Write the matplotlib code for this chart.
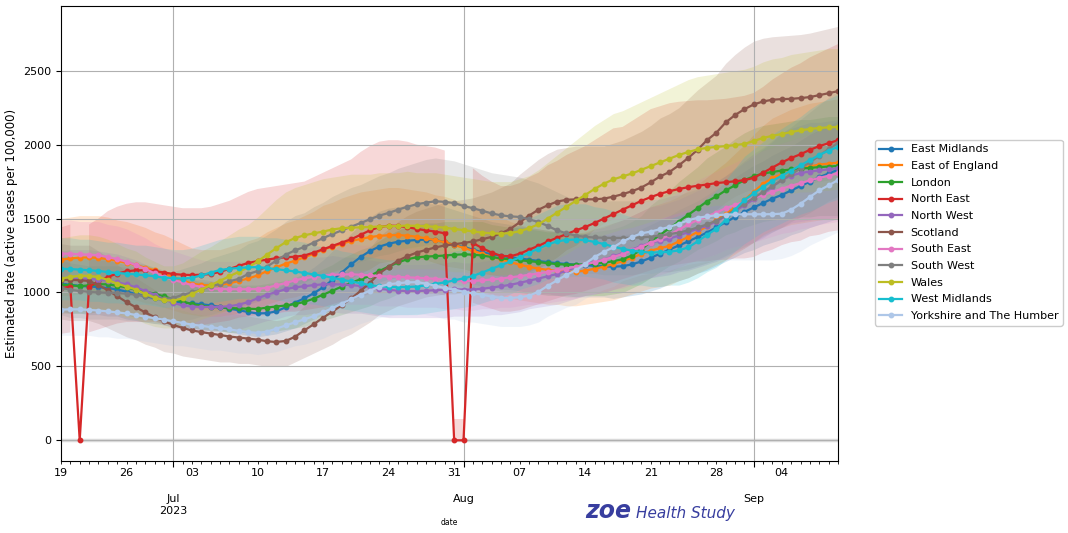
import matplotlib
matplotlib.use("Agg")
import matplotlib.pyplot as plt
import matplotlib.dates as mdates
from matplotlib.ticker import FuncFormatter
import numpy as np
import pandas as pd

# daily estimates, 19 Jun - 10 Sep 2023
dates = pd.date_range("2023-06-19", "2023-09-10", freq="D")

regions = ["East Midlands", "East of England", "London", "North East", "North West",
           "Scotland", "South East", "South West", "Wales", "West Midlands",
           "Yorkshire and The Humber"]
colors = ["#1f77b4", "#ff7f0e", "#2ca02c", "#d62728", "#9467bd", "#8c564b",
          "#e377c2", "#7f7f7f", "#bcbd22", "#17becf", "#aec7e8"]

east_midlands = [1060, 1052, 1045, 1040, 1037, 1030, 1020, 1005, 990, 975, 962, 950, 938, 932,
                 926, 920, 913, 902, 890, 880, 868, 858, 860, 872, 900, 932, 960, 995,
                 1035, 1085, 1135, 1190, 1240, 1280, 1310, 1330, 1343, 1350, 1355, 1358, 1355, 1340,
                 1322, 1308, 1290, 1272, 1258, 1248, 1238, 1230, 1222, 1213, 1205, 1198, 1193, 1188,
                 1185, 1180, 1177, 1174, 1178, 1190, 1210, 1235, 1262, 1290, 1318, 1345, 1375, 1405,
                 1440, 1475, 1510, 1545, 1575, 1605, 1635, 1660, 1690, 1720, 1750, 1780, 1805, 1830]
east_midlands_lo = [870, 860, 860, 850, 850, 840, 840, 820, 810, 800, 790, 780, 770, 760,
                    760, 750, 750, 740, 730, 720, 710, 700, 710, 720, 740, 760, 790, 820,
                    850, 890, 930, 980, 1020, 1050, 1070, 1090, 1100, 1110, 1110, 1110, 1110, 1100,
                    1080, 1070, 1060, 1040, 1030, 1020, 1020, 1010, 1000, 990, 990, 980, 980, 970,
                    970, 970, 970, 960, 970, 980, 990, 1010, 1030, 1060, 1080, 1100, 1130, 1150,
                    1180, 1210, 1240, 1270, 1290, 1320, 1340, 1360, 1390, 1410, 1440, 1460, 1480, 1500]
east_midlands_hi = [1250, 1240, 1230, 1230, 1220, 1220, 1200, 1190, 1170, 1150, 1140, 1120, 1110, 1100,
                    1090, 1090, 1080, 1060, 1050, 1040, 1020, 1010, 1010, 1030, 1060, 1100, 1130, 1170,
                    1220, 1280, 1340, 1400, 1460, 1510, 1550, 1570, 1580, 1590, 1600, 1600, 1600, 1580,
                    1560, 1540, 1520, 1500, 1480, 1470, 1460, 1450, 1440, 1430, 1420, 1410, 1410, 1400,
                    1400, 1390, 1390, 1390, 1390, 1400, 1430, 1460, 1490, 1520, 1560, 1590, 1620, 1660,
                    1700, 1740, 1780, 1820, 1860, 1890, 1930, 1960, 1990, 2030, 2070, 2100, 2130, 2160]

east_of_england = [1222, 1230, 1236, 1237, 1234, 1226, 1214, 1200, 1185, 1168, 1150, 1128, 1105, 1080,
                   1060, 1050, 1048, 1052, 1062, 1078, 1095, 1115, 1145, 1170, 1195, 1215, 1238, 1262,
                   1290, 1310, 1330, 1348, 1362, 1375, 1383, 1387, 1388, 1385, 1377, 1366, 1353, 1340,
                   1322, 1302, 1282, 1262, 1242, 1225, 1205, 1188, 1173, 1162, 1153, 1146, 1140, 1140,
                   1148, 1160, 1175, 1192, 1212, 1235, 1260, 1283, 1300, 1315, 1345, 1375, 1410, 1448,
                   1490, 1530, 1575, 1625, 1680, 1735, 1775, 1800, 1820, 1840, 1853, 1865, 1872, 1878]
east_of_england_lo = [980, 980, 990, 990, 990, 980, 970, 960, 950, 930, 920, 900, 880, 860,
                      850, 840, 840, 840, 850, 860, 880, 890, 920, 940, 960, 970, 990, 1010,
                      1030, 1050, 1060, 1080, 1090, 1100, 1110, 1110, 1110, 1110, 1100, 1090, 1080, 1070,
                      1060, 1040, 1030, 1010, 990, 980, 960, 950, 940, 930, 920, 920, 910, 910,
                      920, 930, 940, 950, 970, 990, 1010, 1030, 1040, 1050, 1080, 1100, 1130, 1160,
                      1190, 1220, 1260, 1300, 1340, 1390, 1420, 1440, 1460, 1470, 1480, 1490, 1500, 1500]
east_of_england_hi = [1500, 1510, 1520, 1520, 1520, 1510, 1490, 1480, 1460, 1440, 1410, 1390, 1360, 1330,
                      1300, 1290, 1290, 1290, 1310, 1330, 1350, 1370, 1410, 1440, 1470, 1490, 1520, 1550,
                      1590, 1610, 1640, 1660, 1680, 1690, 1700, 1710, 1710, 1700, 1690, 1680, 1660, 1650,
                      1630, 1600, 1580, 1550, 1530, 1510, 1480, 1460, 1440, 1430, 1420, 1410, 1400, 1400,
                      1410, 1430, 1450, 1470, 1490, 1520, 1550, 1580, 1600, 1620, 1650, 1690, 1730, 1780,
                      1830, 1880, 1940, 2000, 2070, 2130, 2180, 2210, 2240, 2260, 2280, 2290, 2300, 2310]

london = [1053, 1048, 1043, 1048, 1056, 1055, 1045, 1035, 1018, 1005, 992, 973, 955, 938,
          922, 910, 903, 899, 895, 892, 890, 888, 898, 905, 912, 922, 936, 958,
          985, 1012, 1040, 1065, 1090, 1112, 1145, 1175, 1203, 1225, 1238, 1243, 1246, 1250,
          1255, 1258, 1256, 1250, 1240, 1230, 1224, 1218, 1212, 1206, 1198, 1192, 1188, 1188,
          1190, 1195, 1200, 1212, 1225, 1250, 1290, 1345, 1390, 1435, 1480, 1525, 1570, 1615,
          1650, 1690, 1725, 1760, 1785, 1805, 1815, 1825, 1832, 1838, 1843, 1848, 1852, 1856]
london_lo = [860, 860, 860, 860, 870, 870, 860, 850, 830, 820, 810, 800, 780, 770,
             760, 750, 740, 740, 730, 730, 730, 730, 740, 740, 750, 760, 770, 790,
             810, 830, 850, 870, 890, 910, 940, 960, 990, 1000, 1020, 1020, 1020, 1030,
             1030, 1030, 1030, 1030, 1020, 1010, 1000, 1000, 990, 990, 980, 980, 970, 970,
             980, 980, 980, 990, 1000, 1030, 1060, 1100, 1140, 1180, 1210, 1250, 1290, 1320,
             1350, 1390, 1410, 1440, 1460, 1480, 1490, 1500, 1500, 1510, 1510, 1520, 1520, 1520]
london_hi = [1240, 1240, 1230, 1240, 1250, 1240, 1230, 1220, 1200, 1190, 1170, 1150, 1130, 1110,
             1090, 1070, 1070, 1060, 1060, 1050, 1050, 1050, 1060, 1070, 1080, 1090, 1100, 1130,
             1160, 1190, 1230, 1260, 1290, 1310, 1350, 1390, 1420, 1450, 1460, 1470, 1470, 1480,
             1480, 1480, 1480, 1480, 1460, 1450, 1440, 1440, 1430, 1420, 1410, 1410, 1400, 1400,
             1400, 1410, 1420, 1430, 1450, 1480, 1520, 1590, 1640, 1690, 1750, 1800, 1850, 1910,
             1950, 1990, 2040, 2080, 2110, 2130, 2140, 2150, 2160, 2170, 2170, 2180, 2190, 2190]

north_east = [1030, 1040, 0, 1040, 1075, 1105, 1128, 1143, 1150, 1150, 1145, 1135, 1125, 1120,
              1118, 1120, 1125, 1140, 1160, 1180, 1200, 1212, 1222, 1232, 1238, 1242, 1250, 1270,
              1292, 1315, 1338, 1360, 1390, 1420, 1442, 1452, 1450, 1442, 1430, 1420, 1412, 1400,
              0, 0, 1335, 1300, 1270, 1248, 1245, 1262, 1290, 1315, 1345, 1370, 1395, 1420,
              1443, 1470, 1500, 1530, 1560, 1590, 1620, 1645, 1668, 1685, 1700, 1712, 1722, 1730,
              1740, 1746, 1752, 1760, 1775, 1810, 1845, 1880, 1910, 1935, 1965, 1990, 2010, 2030]
north_east_lo = [720, 730, 0, 730, 750, 770, 790, 800, 800, 800, 800, 790, 790, 780,
                 780, 780, 790, 800, 810, 830, 840, 850, 860, 860, 870, 870, 880, 890,
                 900, 920, 940, 950, 970, 990, 1010, 1020, 1020, 1010, 1000, 990, 990, 980,
                 0, 0, 930, 910, 890, 870, 870, 880, 900, 920, 940, 960, 980, 990,
                 1010, 1030, 1050, 1070, 1090, 1110, 1130, 1150, 1170, 1180, 1190, 1200, 1210, 1210,
                 1220, 1220, 1230, 1230, 1240, 1270, 1290, 1320, 1340, 1350, 1380, 1390, 1410, 1420]
north_east_hi = [1440, 1460, 140, 1460, 1500, 1550, 1580, 1600, 1610, 1610, 1600, 1590, 1580, 1570,
                 1570, 1570, 1580, 1600, 1620, 1650, 1680, 1700, 1710, 1720, 1730, 1740, 1750, 1780,
                 1810, 1840, 1870, 1900, 1950, 1990, 2020, 2030, 2030, 2020, 2000, 1990, 1980, 1960,
                 145, 145, 1840, 1790, 1750, 1720, 1720, 1740, 1780, 1810, 1860, 1890, 1930, 1960,
                 1990, 2030, 2070, 2110, 2120, 2160, 2200, 2240, 2260, 2280, 2290, 2295, 2300, 2300,
                 2305, 2310, 2320, 2330, 2350, 2390, 2440, 2480, 2520, 2550, 2590, 2620, 2650, 2680]

north_west = [1087, 1090, 1094, 1092, 1087, 1080, 1068, 1055, 1035, 1010, 985, 955, 930, 912,
              905, 902, 902, 903, 907, 918, 935, 960, 985, 1003, 1022, 1035, 1042, 1050,
              1055, 1056, 1054, 1050, 1044, 1037, 1025, 1018, 1012, 1010, 1010, 1012, 1015, 1018,
              1022, 1020, 1020, 1025, 1033, 1042, 1052, 1065, 1080, 1094, 1110, 1125, 1148, 1170,
              1190, 1208, 1222, 1245, 1265, 1290, 1315, 1338, 1350, 1364, 1385, 1408, 1430, 1452,
              1480, 1515, 1550, 1590, 1630, 1670, 1715, 1760, 1790, 1808, 1818, 1826, 1833, 1840]
north_west_lo = [890, 890, 900, 900, 890, 890, 880, 870, 850, 830, 810, 780, 760, 750,
                 740, 740, 740, 740, 740, 750, 770, 790, 810, 820, 840, 850, 850, 860,
                 870, 870, 860, 860, 860, 850, 840, 830, 830, 830, 830, 830, 830, 830,
                 840, 840, 840, 840, 850, 850, 860, 870, 890, 900, 910, 920, 940, 960,
                 980, 990, 1000, 1020, 1040, 1060, 1080, 1100, 1110, 1120, 1140, 1150, 1170, 1190,
                 1210, 1240, 1270, 1300, 1340, 1370, 1410, 1440, 1470, 1480, 1490, 1500, 1500, 1510]
north_west_hi = [1280, 1290, 1290, 1290, 1280, 1270, 1260, 1240, 1220, 1190, 1160, 1130, 1100, 1080,
                 1070, 1060, 1060, 1070, 1070, 1080, 1100, 1130, 1160, 1180, 1210, 1220, 1230, 1240,
                 1240, 1250, 1240, 1240, 1230, 1220, 1210, 1200, 1190, 1190, 1190, 1190, 1200, 1200,
                 1210, 1200, 1200, 1210, 1220, 1230, 1240, 1260, 1270, 1290, 1310, 1330, 1350, 1380,
                 1400, 1430, 1440, 1470, 1490, 1520, 1550, 1580, 1590, 1610, 1630, 1660, 1690, 1710,
                 1750, 1790, 1830, 1880, 1920, 1970, 2020, 2080, 2110, 2130, 2150, 2150, 2160, 2170]

scotland = [1087, 1085, 1083, 1078, 1050, 1015, 975, 935, 900, 865, 834, 805, 780, 760,
            743, 732, 722, 712, 702, 695, 688, 681, 670, 665, 672, 700, 744, 785,
            830, 870, 915, 960, 1010, 1065, 1130, 1173, 1215, 1245, 1270, 1288, 1305, 1318,
            1326, 1335, 1345, 1360, 1376, 1400, 1430, 1475, 1520, 1560, 1590, 1615, 1627, 1630,
            1630, 1630, 1635, 1648, 1665, 1685, 1710, 1745, 1785, 1815, 1860, 1910, 1965, 2030,
            2080, 2150, 2200, 2240, 2272, 2292, 2304, 2308, 2310, 2315, 2322, 2335, 2348, 2362]
scotland_lo = [820, 810, 810, 810, 790, 760, 730, 700, 680, 650, 630, 600, 590, 570,
               560, 550, 540, 530, 530, 520, 520, 510, 500, 500, 500, 530, 560, 590,
               620, 650, 690, 720, 760, 800, 850, 880, 910, 930, 950, 970, 980, 990,
               990, 1000, 1010, 1020, 1030, 1050, 1070, 1110, 1140, 1170, 1190, 1210, 1220, 1220,
               1220, 1220, 1230, 1240, 1250, 1260, 1280, 1310, 1340, 1360, 1400, 1430, 1470, 1520,
               1560, 1610, 1650, 1680, 1700, 1720, 1730, 1730, 1730, 1740, 1740, 1750, 1760, 1770]
scotland_hi = [1330, 1320, 1320, 1320, 1280, 1240, 1190, 1140, 1100, 1060, 1020, 980, 950, 930,
               910, 890, 880, 870, 860, 850, 840, 830, 820, 810, 820, 850, 910, 960,
               1010, 1060, 1120, 1170, 1230, 1300, 1380, 1430, 1480, 1520, 1550, 1570, 1590, 1610,
               1620, 1630, 1640, 1660, 1680, 1710, 1740, 1800, 1850, 1900, 1940, 1970, 1980, 1990,
               1990, 1990, 1990, 2010, 2030, 2060, 2090, 2130, 2180, 2210, 2250, 2310, 2370, 2420,
               2470, 2550, 2610, 2660, 2700, 2720, 2730, 2735, 2740, 2745, 2755, 2770, 2785, 2800]

south_east = [1263, 1262, 1258, 1256, 1252, 1240, 1225, 1208, 1185, 1160, 1130, 1105, 1085, 1068,
              1050, 1038, 1028, 1024, 1022, 1022, 1022, 1024, 1032, 1048, 1064, 1082, 1096, 1106,
              1112, 1120, 1122, 1123, 1120, 1116, 1110, 1108, 1106, 1102, 1100, 1096, 1092, 1087,
              1082, 1078, 1078, 1082, 1088, 1094, 1102, 1110, 1120, 1128, 1140, 1150, 1162, 1175,
              1190, 1205, 1222, 1240, 1260, 1285, 1310, 1338, 1360, 1390, 1425, 1460, 1490, 1515,
              1540, 1570, 1592, 1615, 1638, 1660, 1680, 1702, 1722, 1740, 1758, 1775, 1790, 1806]
south_east_lo = [1040, 1030, 1030, 1030, 1030, 1020, 1000, 990, 970, 950, 930, 910, 890, 880,
                 860, 850, 840, 840, 840, 840, 840, 840, 850, 860, 870, 890, 900, 910,
                 910, 920, 920, 920, 920, 920, 910, 910, 910, 900, 900, 900, 900, 890,
                 890, 880, 880, 890, 890, 900, 900, 910, 920, 920, 930, 940, 950, 960,
                 980, 990, 1000, 1020, 1030, 1050, 1070, 1100, 1120, 1140, 1170, 1200, 1220, 1240,
                 1260, 1290, 1310, 1320, 1340, 1360, 1380, 1400, 1410, 1430, 1440, 1460, 1470, 1480]
south_east_hi = [1490, 1490, 1480, 1480, 1480, 1460, 1450, 1430, 1400, 1370, 1330, 1300, 1280, 1260,
                 1240, 1220, 1210, 1210, 1210, 1210, 1210, 1210, 1220, 1240, 1260, 1280, 1290, 1310,
                 1310, 1320, 1320, 1330, 1320, 1320, 1310, 1310, 1310, 1300, 1300, 1290, 1290, 1280,
                 1280, 1270, 1270, 1280, 1280, 1290, 1300, 1310, 1320, 1330, 1350, 1360, 1370, 1390,
                 1400, 1420, 1440, 1460, 1490, 1520, 1550, 1580, 1600, 1640, 1680, 1720, 1760, 1790,
                 1820, 1850, 1880, 1910, 1930, 1960, 1980, 2010, 2030, 2050, 2070, 2090, 2110, 2130]

south_west = [1033, 1018, 1010, 1004, 1000, 998, 997, 992, 985, 976, 968, 958, 962, 985,
              1000, 1020, 1042, 1058, 1076, 1092, 1125, 1145, 1175, 1215, 1255, 1285, 1308, 1338,
              1368, 1395, 1420, 1445, 1470, 1495, 1520, 1538, 1560, 1580, 1597, 1608, 1617, 1613,
              1605, 1585, 1570, 1553, 1535, 1522, 1515, 1511, 1495, 1477, 1450, 1420, 1400, 1385,
              1376, 1372, 1370, 1369, 1369, 1370, 1372, 1378, 1385, 1395, 1405, 1420, 1440, 1460,
              1485, 1520, 1560, 1600, 1640, 1680, 1720, 1760, 1800, 1840, 1880, 1925, 1970, 2010]
south_west_lo = [850, 830, 830, 820, 820, 820, 820, 810, 810, 800, 790, 790, 790, 810,
                 820, 840, 850, 870, 880, 900, 920, 940, 960, 1000, 1030, 1050, 1070, 1100,
                 1120, 1140, 1160, 1180, 1210, 1230, 1250, 1260, 1280, 1300, 1310, 1320, 1330, 1320,
                 1320, 1300, 1290, 1270, 1260, 1250, 1240, 1240, 1230, 1210, 1190, 1160, 1150, 1140,
                 1130, 1130, 1120, 1120, 1120, 1120, 1130, 1130, 1140, 1140, 1150, 1160, 1180, 1200,
                 1220, 1250, 1280, 1310, 1340, 1380, 1410, 1440, 1480, 1510, 1540, 1580, 1620, 1650]
south_west_hi = [1220, 1200, 1190, 1180, 1180, 1180, 1180, 1170, 1160, 1150, 1140, 1130, 1140, 1160,
                 1180, 1200, 1230, 1250, 1270, 1290, 1330, 1350, 1390, 1430, 1480, 1520, 1540, 1580,
                 1610, 1650, 1680, 1710, 1730, 1760, 1790, 1810, 1840, 1860, 1880, 1900, 1910, 1900,
                 1890, 1870, 1850, 1830, 1810, 1800, 1790, 1780, 1760, 1740, 1710, 1680, 1650, 1630,
                 1620, 1620, 1620, 1620, 1620, 1620, 1620, 1630, 1630, 1650, 1660, 1680, 1700, 1720,
                 1750, 1790, 1840, 1890, 1940, 1980, 2030, 2080, 2120, 2170, 2220, 2270, 2320, 2370]

wales = [1094, 1105, 1114, 1112, 1105, 1085, 1060, 1040, 1020, 990, 965, 947, 945, 960,
         990, 1020, 1050, 1080, 1110, 1140, 1170, 1210, 1255, 1300, 1340, 1368, 1387, 1400,
         1412, 1426, 1435, 1438, 1441, 1443, 1446, 1448, 1450, 1452, 1451, 1448, 1444, 1438,
         1430, 1422, 1413, 1405, 1400, 1398, 1402, 1414, 1435, 1461, 1500, 1540, 1580, 1620,
         1660, 1700, 1736, 1765, 1785, 1805, 1830, 1855, 1880, 1905, 1930, 1950, 1968, 1978,
         1985, 1990, 1997, 2005, 2025, 2045, 2060, 2072, 2085, 2097, 2106, 2113, 2117, 2120]
wales_lo = [880, 880, 890, 890, 880, 870, 850, 830, 820, 790, 770, 760, 760, 770,
            790, 820, 840, 860, 890, 910, 940, 970, 1000, 1040, 1070, 1090, 1110, 1120,
            1130, 1140, 1150, 1150, 1150, 1150, 1160, 1160, 1160, 1160, 1160, 1160, 1160, 1150,
            1140, 1140, 1130, 1120, 1120, 1120, 1120, 1130, 1150, 1170, 1200, 1230, 1260, 1300,
            1330, 1360, 1390, 1410, 1430, 1440, 1460, 1480, 1500, 1520, 1540, 1560, 1570, 1580,
            1590, 1590, 1600, 1600, 1620, 1640, 1650, 1660, 1670, 1680, 1680, 1690, 1690, 1700]
wales_hi = [1370, 1380, 1390, 1390, 1380, 1360, 1330, 1300, 1280, 1240, 1210, 1180, 1180, 1200,
            1240, 1280, 1310, 1350, 1390, 1430, 1460, 1510, 1570, 1630, 1680, 1710, 1730, 1750,
            1770, 1780, 1790, 1800, 1800, 1800, 1810, 1810, 1810, 1820, 1810, 1810, 1810, 1800,
            1790, 1780, 1770, 1760, 1750, 1750, 1750, 1770, 1790, 1830, 1880, 1930, 1980, 2030,
            2080, 2130, 2170, 2210, 2230, 2260, 2290, 2320, 2350, 2380, 2410, 2440, 2460, 2470,
            2480, 2490, 2500, 2510, 2530, 2560, 2580, 2590, 2610, 2620, 2630, 2640, 2650, 2650]

west_midlands = [1161, 1158, 1155, 1150, 1146, 1138, 1132, 1127, 1122, 1116, 1110, 1100, 1096, 1094,
                 1100, 1115, 1135, 1152, 1161, 1166, 1170, 1172, 1165, 1158, 1150, 1142, 1132, 1122,
                 1112, 1100, 1086, 1075, 1062, 1050, 1042, 1037, 1036, 1037, 1040, 1048, 1058, 1068,
                 1082, 1095, 1112, 1135, 1160, 1184, 1210, 1238, 1268, 1297, 1325, 1345, 1356, 1358,
                 1354, 1342, 1328, 1310, 1295, 1283, 1275, 1270, 1272, 1275, 1285, 1305, 1345, 1390,
                 1430, 1490, 1560, 1625, 1670, 1715, 1755, 1790, 1825, 1860, 1895, 1930, 1960, 1985]
west_midlands_lo = [950, 950, 950, 940, 940, 930, 930, 920, 920, 920, 910, 900, 900, 900,
                    900, 910, 930, 940, 950, 960, 960, 960, 960, 950, 940, 940, 930, 920,
                    910, 900, 890, 880, 870, 860, 850, 850, 850, 850, 850, 860, 870, 880,
                    890, 900, 910, 930, 950, 970, 990, 1020, 1040, 1060, 1090, 1100, 1110, 1110,
                    1110, 1100, 1090, 1070, 1060, 1050, 1050, 1040, 1040, 1050, 1050, 1070, 1100, 1140,
                    1170, 1220, 1280, 1330, 1370, 1410, 1440, 1470, 1500, 1530, 1550, 1580, 1610, 1630]
west_midlands_hi = [1370, 1370, 1360, 1360, 1350, 1340, 1340, 1330, 1320, 1320, 1310, 1300, 1290, 1290,
                    1300, 1320, 1340, 1360, 1370, 1380, 1380, 1380, 1370, 1370, 1360, 1350, 1340, 1320,
                    1310, 1300, 1280, 1270, 1250, 1240, 1230, 1220, 1220, 1220, 1230, 1240, 1250, 1260,
                    1280, 1290, 1310, 1340, 1370, 1400, 1430, 1460, 1500, 1530, 1560, 1590, 1600, 1600,
                    1600, 1580, 1570, 1550, 1530, 1510, 1500, 1500, 1500, 1500, 1520, 1540, 1590, 1640,
                    1690, 1760, 1840, 1920, 1970, 2020, 2070, 2110, 2150, 2190, 2240, 2280, 2310, 2340]

yorkshire = [884, 886, 886, 882, 878, 872, 865, 858, 848, 836, 826, 816, 805, 794,
             782, 775, 765, 757, 750, 740, 732, 727, 735, 755, 777, 798, 818, 840,
             865, 895, 925, 955, 985, 1012, 1040, 1055, 1063, 1068, 1070, 1060, 1045, 1030,
             1020, 1005, 995, 985, 972, 963, 962, 968, 978, 1005, 1045, 1082, 1120, 1150,
             1195, 1240, 1275, 1305, 1345, 1375, 1400, 1412, 1428, 1443, 1465, 1488, 1505, 1515,
             1522, 1527, 1528, 1529, 1529, 1529, 1530, 1533, 1560, 1600, 1646, 1690, 1725, 1760]
yorkshire_lo = [710, 710, 710, 710, 700, 700, 690, 690, 680, 670, 660, 650, 640, 640,
                630, 620, 610, 610, 600, 590, 590, 580, 590, 600, 620, 640, 650, 670,
                690, 720, 740, 760, 790, 810, 830, 840, 850, 850, 860, 850, 840, 820,
                820, 800, 800, 790, 780, 770, 770, 770, 780, 800, 840, 870, 900, 920,
                960, 990, 1020, 1040, 1080, 1100, 1120, 1130, 1140, 1150, 1170, 1190, 1200, 1210,
                1220, 1220, 1220, 1220, 1220, 1220, 1220, 1230, 1250, 1280, 1320, 1350, 1380, 1410]
yorkshire_hi = [1020, 1020, 1020, 1010, 1010, 1000, 990, 990, 980, 960, 950, 940, 930, 910,
                900, 890, 880, 870, 860, 850, 840, 840, 850, 870, 890, 920, 940, 970,
                990, 1030, 1060, 1100, 1130, 1160, 1200, 1210, 1220, 1230, 1230, 1220, 1200, 1180,
                1170, 1160, 1140, 1130, 1120, 1110, 1110, 1110, 1120, 1160, 1200, 1240, 1290, 1320,
                1370, 1430, 1470, 1500, 1550, 1580, 1610, 1620, 1640, 1660, 1680, 1710, 1730, 1740,
                1750, 1760, 1760, 1760, 1760, 1760, 1760, 1760, 1790, 1840, 1890, 1940, 1980, 2020]

series = {
    "East Midlands": (east_midlands, east_midlands_lo, east_midlands_hi),
    "East of England": (east_of_england, east_of_england_lo, east_of_england_hi),
    "London": (london, london_lo, london_hi),
    "North East": (north_east, north_east_lo, north_east_hi),
    "North West": (north_west, north_west_lo, north_west_hi),
    "Scotland": (scotland, scotland_lo, scotland_hi),
    "South East": (south_east, south_east_lo, south_east_hi),
    "South West": (south_west, south_west_lo, south_west_hi),
    "Wales": (wales, wales_lo, wales_hi),
    "West Midlands": (west_midlands, west_midlands_lo, west_midlands_hi),
    "Yorkshire and The Humber": (yorkshire, yorkshire_lo, yorkshire_hi),
}

plt.rcParams['font.family'] = ['DejaVu Sans']

fig = plt.figure(figsize=(10.68, 5.33), dpi=100)
ax = fig.add_axes([0.0571, 0.1351, 0.7275, 0.8542])

# uncertainty bands first; days with a zero estimate get their own (tiny) band
for name, color in zip(regions, colors):
    vals, lo, hi = series[name]
    ok = np.array(vals) > 0
    ax.fill_between(dates, lo, hi, where=ok, color=color, alpha=0.18, lw=0)
    ax.fill_between(dates, lo, hi, where=~ok, color=color, alpha=0.18, lw=0)

ax.axhline(0, color="#dcdcdc", lw=2.5, zorder=1.2)

for name, color in zip(regions, colors):
    vals = series[name][0]
    ax.plot(dates, vals, color=color, lw=1.6, marker="o", ms=3.2, label=name)

ax.set_xlim(dates[0], dates[-1])
ax.set_ylim(-140, 2940)
ax.set_yticks([0, 500, 1000, 1500, 2000, 2500])


def month_label(x, pos=None):
    d = mdates.num2date(x)
    return d.strftime("%b\n%Y") if d.month == 7 else d.strftime("%b")


def monday_label(x, pos=None):
    d = mdates.num2date(x)
    return d.strftime("%d") if d.weekday() == 0 else ""


ax.xaxis.set_major_locator(mdates.MonthLocator())
ax.xaxis.set_major_formatter(FuncFormatter(month_label))
ax.xaxis.set_minor_locator(mdates.DayLocator())
ax.xaxis.set_minor_formatter(FuncFormatter(monday_label))
ax.tick_params(axis="x", which="major", length=4, pad=20, labelsize=8)
ax.tick_params(axis="x", which="minor", length=2, labelsize=8)
ax.tick_params(axis="y", labelsize=8)

ax.grid(True, which="major", color="#b0b0b0", lw=0.8)

ax.set_ylabel("Estimated rate (active cases per 100,000)", fontsize=8.5)
ax.set_xlabel("date", fontsize=5.5)
ax.xaxis.set_label_coords(0.5, -0.125)

ax.legend(loc="upper left", bbox_to_anchor=(0.8193, 0.7373), bbox_transform=fig.transFigure,
          fontsize=8, labelspacing=0.6, borderaxespad=0, framealpha=1)

# logo text under the plot
fig.text(0.5475, 1 - 518 / 533, "zoe", fontsize=17, fontweight="heavy", style="italic",
         color="#383e9f", va="baseline")
fig.text(0.5955, 1 - 518 / 533, "Health Study", fontsize=11, style="italic",
         color="#383e9f", va="baseline")

fig.savefig("out.png", dpi=100)
plt.close(fig)
